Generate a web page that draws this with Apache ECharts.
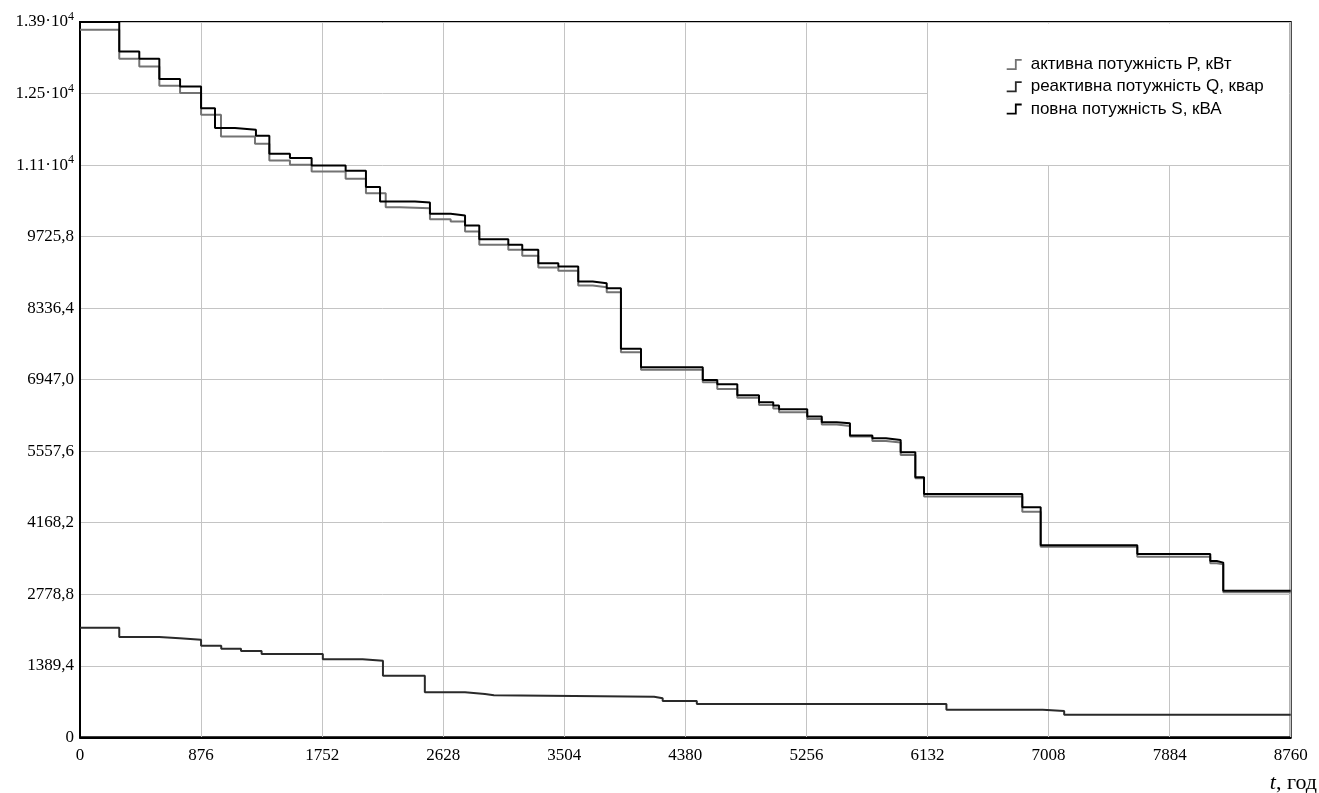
<!DOCTYPE html>
<html><head><meta charset="utf-8">
<script src="https://cdn.jsdelivr.net/npm/echarts@6/dist/echarts.min.js"></script>
<style>html,body{margin:0;padding:0;background:#fff}#c{width:1319px;height:793px}</style>
</head><body><div id="c"></div>
<script>
// Full power S, kVA
const tS = [0,284,429,574,724,876,977,1121,1273,1370,1519,1676,1922,2069,2171,2424,2532,2682,2786,2889,3099,3200,3316,3461,3605,3710,3811,3914,4059,4506,4611,4756,4913,5016,5058,5262,5367,5475,5571,5733,5832,5938,6044,6107,6818,6951,7650,8178,8225,8272,8760];
const sValues = [13894,13321,13179,12785,12641,12221,11833,11800,11683,11334,11250,11106,11003,10687,10407,10387,10168,10135,9940,9676,9565,9468,9210,9144,8852,8821,8724,7545,7189,6942,6859,6645,6509,6443,6373,6229,6120,6101,5860,5810,5777,5538,5052,4727,4469,3731,3562,3426,3393,2849,2849];
// Active power P, kW
const tP = [0,284,429,574,724,876,1020,1266,1370,1519,1676,1922,2069,2212,2315,2532,2682,2786,2889,3099,3200,3316,3461,3605,3710,3811,3914,4059,4506,4611,4756,4913,5016,5058,5262,5367,5475,5571,5733,5832,5938,6044,6107,6818,6951,7650,8178,8225,8272,8760];
const pValues = [13743,13179,13030,12655,12513,12091,11670,11528,11203,11120,10990,10848,10570,10298,10278,10065,10018,9824,9565,9468,9352,9124,9060,8775,8744,8646,7481,7137,6898,6767,6593,6457,6385,6315,6185,6074,6049,5841,5757,5724,5485,5032,4675,4383,3703,3509,3381,3361,2817,2817];
// Reactive power Q, kvar
const tQ = [0,284,573,721,876,1022,1165,1314,1757,2045,2192,2495,2786,2930,2995,4154,4216,4463,6269,6966,7121,8760];
const qValues = [2130,1949,1924,1896,1780,1722,1677,1619,1516,1488,1197,874,841,816,789,757,705,647,536,511,439,439];

const yTickLabels = ['0','1389,4','2778,8','4168,2','5557,6','6947,0','8336,4','9725,8','1.11·10^4','1.25·10^4','1.39·10^4'];
const seriesNames = ['активна потужність P, кВт','реактивна потужність Q, квар','повна потужність S, кВА'];
const seriesColors = ['#737373','#2a2a2a','#000000'];

const stepIcon = 'path://M0,9.2 L8.2,9.2 L8.2,0 L15,0 L15,1.8 L10,1.8 L10,11 L0,11 Z';
const serif = 'Liberation Serif';

function pairs(ts, vs){ return ts.map((t,i)=>[t, vs[i]]); }

const chart = echarts.init(document.getElementById('c'), null, {renderer:'canvas'});
chart.setOption({
  animation:false,
  backgroundColor:'#fff',
  grid:{left:80, right:28.3, top:22, bottom:55.7, show:true, borderColor:'#000', borderWidth:2, backgroundColor:'transparent', containLabel:false, outerBoundsMode:'none'},
  xAxis:{
    type:'value', min:0, max:8760, interval:876,
    axisLine:{show:true, onZero:false, lineStyle:{color:'#000', width:2}},
    axisTick:{show:false},
    axisLabel:{color:'#000', fontFamily:serif, fontSize:17, margin:10, showMaxLabel:true, showMinLabel:true,
      formatter:function(v){ return String(Math.round(v)); }},
    splitLine:{show:true, lineStyle:{color:'#c4c4c4', width:1}}
  },
  yAxis:{
    type:'value', min:0, max:13894, interval:1389.4,
    axisLine:{show:true, onZero:false, lineStyle:{color:'#000', width:2}},
    axisTick:{show:false},
    axisLabel:{
      color:'#000', fontFamily:serif, fontSize:17, margin:6, showMaxLabel:true,
      formatter:function(v, i){
        const s = yTickLabels[i] !== undefined ? yTickLabels[i] : '';
        if (s.indexOf('^') >= 0) { const p = s.split('^'); return '{m|' + p[0] + '}{s|' + p[1] + '}'; }
        return '{m|' + s + '}';
      },
      rich:{
        m:{fontFamily:serif, fontSize:17, color:'#000', lineHeight:22},
        s:{fontFamily:serif, fontSize:12, color:'#000', verticalAlign:'top', lineHeight:12}
      }
    },
    splitLine:{show:true, lineStyle:{color:'#c4c4c4', width:1}}
  },
  legend:{
    orient:'vertical', left:1006.7, top:56, padding:0, itemWidth:15, itemHeight:11, itemGap:5.3,
    textStyle:{fontFamily:'Liberation Sans', fontSize:17, color:'#000', padding:[0,0,0,4]},
    data: seriesNames.map((n,i)=>({name:n, icon:stepIcon, itemStyle:{color:seriesColors[i], borderWidth:0}}))
  },
  graphic:[
    {type:'rect', z:1, shape:{x:928, y:23.5, width:361, height:141.5}, style:{fill:'#fff'}, silent:true},
    {type:'text', z:5, right:2, top:772, style:{
      text:'{i|t}{r|, год}',
      rich:{i:{fontFamily:serif, fontStyle:'italic', fontSize:22, fill:'#000'}, r:{fontFamily:serif, fontSize:22, fill:'#000'}}
    }}
  ],
  series:[
    {name:seriesNames[0], type:'line', step:'end', showSymbol:false, z:2, data:pairs(tP,pValues), lineStyle:{color:seriesColors[0], width:2}, itemStyle:{color:seriesColors[0]}},
    {name:seriesNames[1], type:'line', step:'end', showSymbol:false, z:3, data:pairs(tQ,qValues), lineStyle:{color:seriesColors[1], width:2}, itemStyle:{color:seriesColors[1]}},
    {name:seriesNames[2], type:'line', step:'end', showSymbol:false, z:4, data:pairs(tS,sValues), lineStyle:{color:seriesColors[2], width:2}, itemStyle:{color:seriesColors[2]}}
  ]
});
</script>
</body></html>
